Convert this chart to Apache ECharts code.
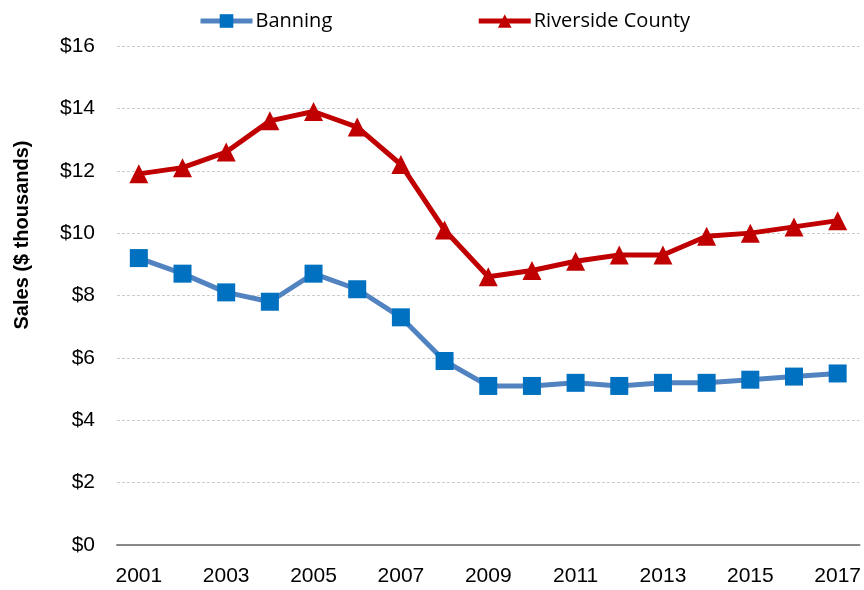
<!DOCTYPE html>
<html><head><meta charset="utf-8">
<script src="https://cdn.jsdelivr.net/npm/echarts@6/dist/echarts.min.js"></script>
<style>html,body{margin:0;padding:0;background:#fff}#c{width:864px;height:590px}</style>
</head><body><div id="c"></div>
<script>
const years = ['2001','2002','2003','2004','2005','2006','2007','2008','2009','2010','2011','2012','2013','2014','2015','2016','2017'];
const banning = [9.2,8.7,8.1,7.8,8.7,8.2,7.3,5.9,5.1,5.1,5.2,5.1,5.2,5.2,5.3,5.4,5.5];
const riverside = [11.9,12.1,12.6,13.6,13.9,13.4,12.2,10.1,8.6,8.8,9.1,9.3,9.3,9.9,10.0,10.2,10.4];
const chart = echarts.init(document.getElementById('c'));
chart.setOption({
  animation:false,
  legend:{
    top:6, left:193, itemGap:144, itemWidth:52, itemHeight:17,
    lineStyle:{width:5},
    textStyle:{fontFamily:'Open Sans', fontSize:20, color:'#000', padding:[0,0,0,-2]},
    data:['Banning','Riverside County']
  },
  grid:{left:117, right:4, top:46, bottom:45},
  xAxis:{
    type:'category', data:years, boundaryGap:true,
    axisLine:{lineStyle:{color:'#888', width:2}},
    axisTick:{show:false},
    axisLabel:{interval:1, fontFamily:'Liberation Sans', fontSize:21, color:'#000', margin:21}
  },
  yAxis:{
    type:'value', min:0, max:16, interval:2,
    axisLine:{show:false}, axisTick:{show:false},
    axisLabel:{formatter:v=>'$'+v, fontFamily:'Liberation Sans', fontSize:21, color:'#000', margin:22},
    splitLine:{lineStyle:{color:'#cccccc', type:[3,2], width:1}}
  },
  graphic:[{
    type:'text', x:22, y:235, rotation:Math.PI/2,
    style:{text:'Sales ($ thousands)', fontFamily:'Liberation Sans', fontWeight:'bold', fontSize:20,
      fill:'#000', align:'center', verticalAlign:'middle'}
  }],
  series:[
    {name:'Banning', type:'line', data:banning, symbol:'rect', symbolSize:18,
     lineStyle:{color:'#5183c0', width:5}, itemStyle:{color:'#0070c0'}},
    {name:'Riverside County', type:'line', data:riverside, symbol:'triangle', symbolSize:19,
     lineStyle:{color:'#c00000', width:5}, itemStyle:{color:'#c00000'}}
  ]
});
</script></body></html>
